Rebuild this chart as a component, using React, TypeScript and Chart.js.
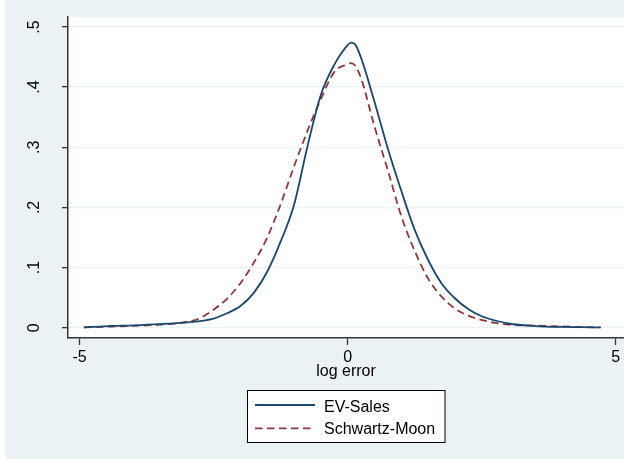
import React, { useEffect, useRef } from "react";
import { Chart, registerables } from "chart.js";

Chart.register(...registerables);

// ---- data ----
const logError = [-4.92, -4.4, -4.0, -3.5, -3.0, -2.75, -2.5, -2.25, -2.0, -1.75, -1.5, -1.25, -1.0, -0.75, -0.5, -0.25, 0.0, 0.06, 0.14, 0.25, 0.5, 0.75, 1.0, 1.25, 1.5, 1.75, 2.0, 2.25, 2.5, 2.75, 3.0, 3.5, 4.0, 4.35, 4.72];
const evSales = [0.0005, 0.003, 0.004, 0.006, 0.009, 0.011, 0.015, 0.024, 0.036, 0.058, 0.093, 0.143, 0.204, 0.301, 0.387, 0.437, 0.47, 0.474, 0.471, 0.449, 0.376, 0.298, 0.228, 0.163, 0.113, 0.074, 0.049, 0.031, 0.019, 0.012, 0.007, 0.0028, 0.0013, 0.001, 0.0005];
const schwartzMoon = [0.0005, 0.002, 0.003, 0.005, 0.0095, 0.016, 0.03, 0.048, 0.074, 0.108, 0.15, 0.205, 0.268, 0.327, 0.38, 0.425, 0.438, 0.44, 0.436, 0.415, 0.335, 0.262, 0.186, 0.128, 0.082, 0.052, 0.032, 0.02, 0.013, 0.008, 0.005, 0.0035, 0.0022, 0.0012, 0.0005];
const seriesNames = ["EV-Sales", "Schwartz-Moon"];
const xTicks = [-5, 0, 5];
const xTickLabels = ["-5", "0", "5"];
const yTicks = [0, 0.1, 0.2, 0.3, 0.4, 0.5];
const yTickLabels = ["0", ".1", ".2", ".3", ".4", ".5"];
const xTitle = "log error";

const FONT = "'Liberation Sans', Arial, sans-serif";
const BG = "rgb(234,242,243)";
const BLUE = "#1a476f";
const RED = "#90353b";
const DASH = [7.5, 4.5];

const bgPlugin = {
  id: "stataBg",
  beforeDraw(chart: any) {
    const { ctx, width, height, chartArea } = chart;
    ctx.save();
    ctx.fillStyle = "#ffffff";
    ctx.fillRect(0, 0, width, height);
    ctx.fillStyle = BG;
    ctx.fillRect(5, 0, width - 5, height - 1);
    ctx.fillStyle = "#ffffff";
    ctx.fillRect(chartArea.left, chartArea.top, chartArea.right - chartArea.left, chartArea.bottom - chartArea.top);
    ctx.restore();
  },
};

const legendPlugin = {
  id: "stataLegend",
  afterDraw(chart: any) {
    const { ctx } = chart;
    ctx.save();
    const bx = 247.5, by = 390.5, bw = 197.5, bh = 52;
    ctx.fillStyle = "#ffffff";
    ctx.fillRect(bx, by, bw, bh);
    ctx.strokeStyle = "#000000";
    ctx.lineWidth = 1;
    ctx.strokeRect(bx, by, bw, bh);
    const rows = [
      { y: 405, base: 411.7, color: BLUE, dash: [] as number[] },
      { y: 428.3, base: 433.7, color: RED, dash: DASH },
    ];
    chart.data.datasets.forEach((ds: any, i: number) => {
      const r = rows[i];
      ctx.beginPath();
      ctx.setLineDash(r.dash);
      ctx.strokeStyle = r.color;
      ctx.lineWidth = 1.8;
      ctx.moveTo(255, r.y);
      ctx.lineTo(315, r.y);
      ctx.stroke();
      ctx.setLineDash([]);
      ctx.fillStyle = "#000000";
      ctx.font = `16px ${FONT}`;
      ctx.textAlign = "left";
      ctx.textBaseline = "alphabetic";
      ctx.fillText(ds.label, 324, r.base);
    });
    ctx.restore();
  },
};

export default function App() {
  const ref = useRef<HTMLCanvasElement | null>(null);

  useEffect(() => {
    if (!ref.current) return;
    const chart = new Chart(ref.current, {
      type: "line",
      data: {
        datasets: [
          {
            label: seriesNames[0],
            data: logError.map((x, i) => ({ x, y: evSales[i] })),
            borderColor: BLUE,
            borderWidth: 1.8,
            pointRadius: 0,
            fill: false,
            cubicInterpolationMode: "monotone",
          },
          {
            label: seriesNames[1],
            data: logError.map((x, i) => ({ x, y: schwartzMoon[i] })),
            borderColor: RED,
            borderWidth: 1.8,
            borderDash: DASH,
            pointRadius: 0,
            fill: false,
            cubicInterpolationMode: "monotone",
          },
        ],
      },
      options: {
        animation: false,
        responsive: false,
        devicePixelRatio: 1,
        layout: { padding: { top: 17, left: 0, right: 0, bottom: 0 } },
        plugins: { legend: { display: false }, tooltip: { enabled: false } },
        scales: {
          x: {
            type: "linear",
            min: -5.216,
            max: 5.156,
            afterBuildTicks: (s: any) => {
              s.ticks = xTicks.map((v) => ({ value: v }));
            },
            afterFit: (s: any) => {
              s.height = 122;
              s.paddingLeft = 0;
              s.paddingRight = 0;
            },
            grid: { drawOnChartArea: false, drawTicks: true, tickLength: 7, tickColor: "#333", tickWidth: 1.3 },
            border: { display: true, color: "#333", width: 1.5 },
            ticks: {
              autoSkip: false,
              maxRotation: 0,
              minRotation: 0,
              padding: 3,
              color: "#000",
              font: { family: FONT, size: 16 },
              callback: (v: any) => xTickLabels[xTicks.indexOf(Number(v))] ?? "",
            },
            title: {
              display: true,
              text: xTitle,
              color: "#000",
              font: { family: FONT, size: 16 },
              padding: { top: 0, bottom: 79 },
            },
          },
          y: {
            type: "linear",
            min: -0.0171,
            max: 0.5166,
            afterBuildTicks: (s: any) => {
              s.ticks = yTicks.map((v) => ({ value: v }));
            },
            afterFit: (s: any) => {
              s.width = 68;
              s.paddingTop = 0;
              s.paddingBottom = 0;
            },
            grid: { color: BG, lineWidth: 1.3, drawTicks: true, tickLength: 6, tickColor: "#333", tickWidth: 1.3 },
            border: { display: true, color: "#333", width: 1.5 },
            ticks: {
              autoSkip: false,
              minRotation: 90,
              maxRotation: 90,
              crossAlign: "center",
              padding: 21,
              color: "#000",
              font: { family: FONT, size: 16 },
              callback: (v: any) => {
                const i = yTicks.findIndex((t) => Math.abs(t - Number(v)) < 1e-9);
                return i >= 0 ? yTickLabels[i] : "";
              },
            },
          },
        },
      },
      plugins: [bgPlugin, legendPlugin],
    } as any);
    return () => chart.destroy();
  }, []);

  return (
    <div style={{ position: "fixed", left: 0, top: 0, width: 624, height: 460 }}>
      <canvas ref={ref} width={624} height={460} style={{ display: "block" }} />
    </div>
  );
}
